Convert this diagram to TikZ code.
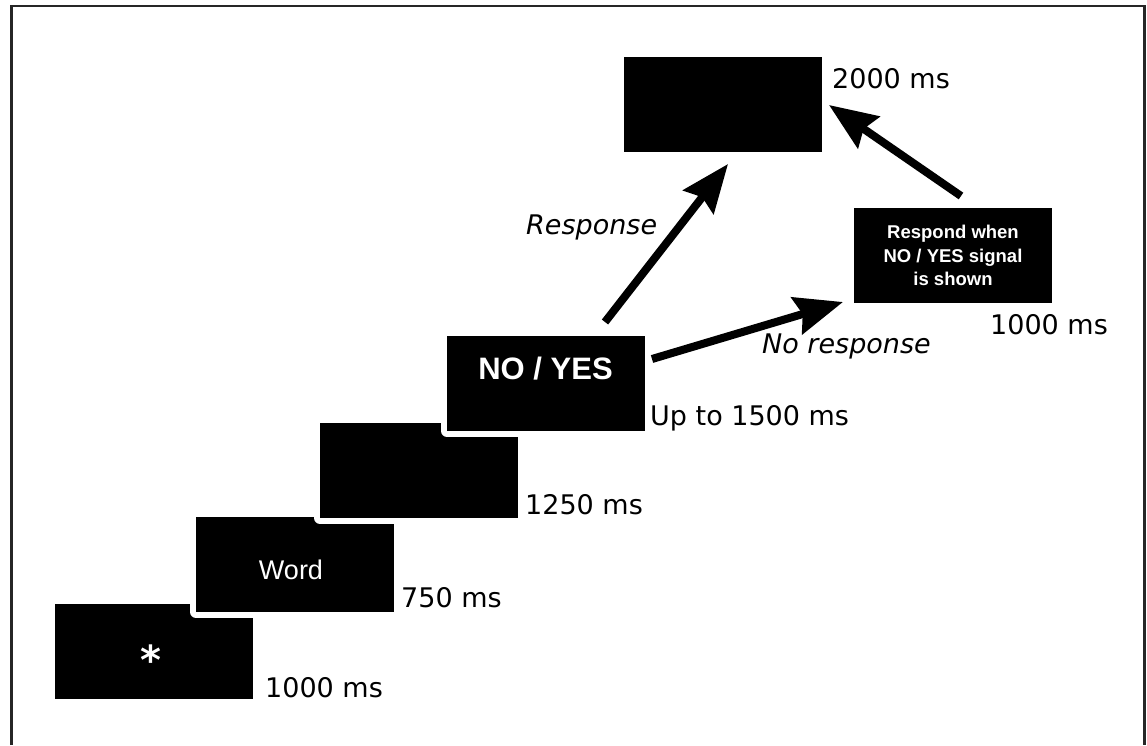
\documentclass[tikz,border=0pt]{standalone}
\usepackage{fontspec}
\setmainfont{DejaVu Sans}
\newfontfamily\arialfont{Liberation Sans}
\usetikzlibrary{arrows.meta}
\begin{document}
\begin{tikzpicture}[x=1pt,y=-1pt,
  scr/.style={fill=black, draw=none, minimum width=198pt, minimum height=95pt,
    inner sep=0pt, outer sep=0pt, anchor=north west,
    preaction={draw=white, line width=12pt, line join=round}},
  lbl/.style={anchor=base west, inner sep=0pt, font=\fontsize{27}{30}\selectfont},
  ilbl/.style={lbl, font=\fontsize{27}{30}\selectfont\itshape},
  bigarrow/.style={line width=8pt, -{Stealth[length=48pt,width=38pt,inset=6pt]}},
  frame/.style={line width=2.5pt, draw=black!85}]
\useasboundingbox (0,0) rectangle (1147,745);
\draw[frame] (11.5,745) -- (11.5,6) -- (1144.5,6) -- (1144.5,745);
% screens
\node[scr] (fix) at (55,604) {};
\node[scr] (word) at (196,517) {};
\node[scr] (blank) at (320,423) {};
\node[scr] (sig) at (447,336) {};
\node[scr] (fb) at (624,57) {};
\node[scr] (remind) at (854,208) {};
% texts inside screens
\node[anchor=base, inner sep=0pt, text=white, font=\fontsize{40}{40}\selectfont\bfseries] (ast) at (151,674) {*};
\node[anchor=base, inner sep=0pt, text=white, font=\arialfont\fontsize{27}{30}\selectfont] (wordt) at (291,579) {Word};
\node[anchor=base, inner sep=0pt, text=white, font=\arialfont\bfseries\fontsize{31}{34}\selectfont] (sigt) at (545.5,379) {NO / YES};
\node[inner sep=0pt, text=white, align=center, font=\arialfont\bfseries\fontsize{18.5}{23.5}\selectfont] (remt) at (remind.center) {Respond when\\NO / YES signal\\is shown};
% durations
\node[lbl] (d1) at (265,697) {1000 ms};
\node[lbl] (d2) at (401,607) {750 ms};
\node[lbl] (d3) at (525,514) {1250 ms};
\node[lbl] (d4) at (650,425) {Up to 1500 ms};
\node[lbl] (d5) at (832,88) {2000 ms};
\node[lbl] (d6) at (990,334) {1000 ms};
\node[ilbl] (resp) at (526,234) {Response};
\node[ilbl] (noresp) at (762,353) {No response};
% arrows
\coordinate (a1s) at (605,322);
\coordinate (a1e) at (728,164);
\coordinate (a2s) at (652,359);
\coordinate (a2e) at (843,302);
\coordinate (a3s) at (961,196);
\coordinate (a3e) at (829,105);
\draw[bigarrow] (a1s) -- (a1e);
\draw[bigarrow] (a2s) -- (a2e);
\draw[bigarrow] (a3s) -- (a3e);
\end{tikzpicture}
\end{document}
